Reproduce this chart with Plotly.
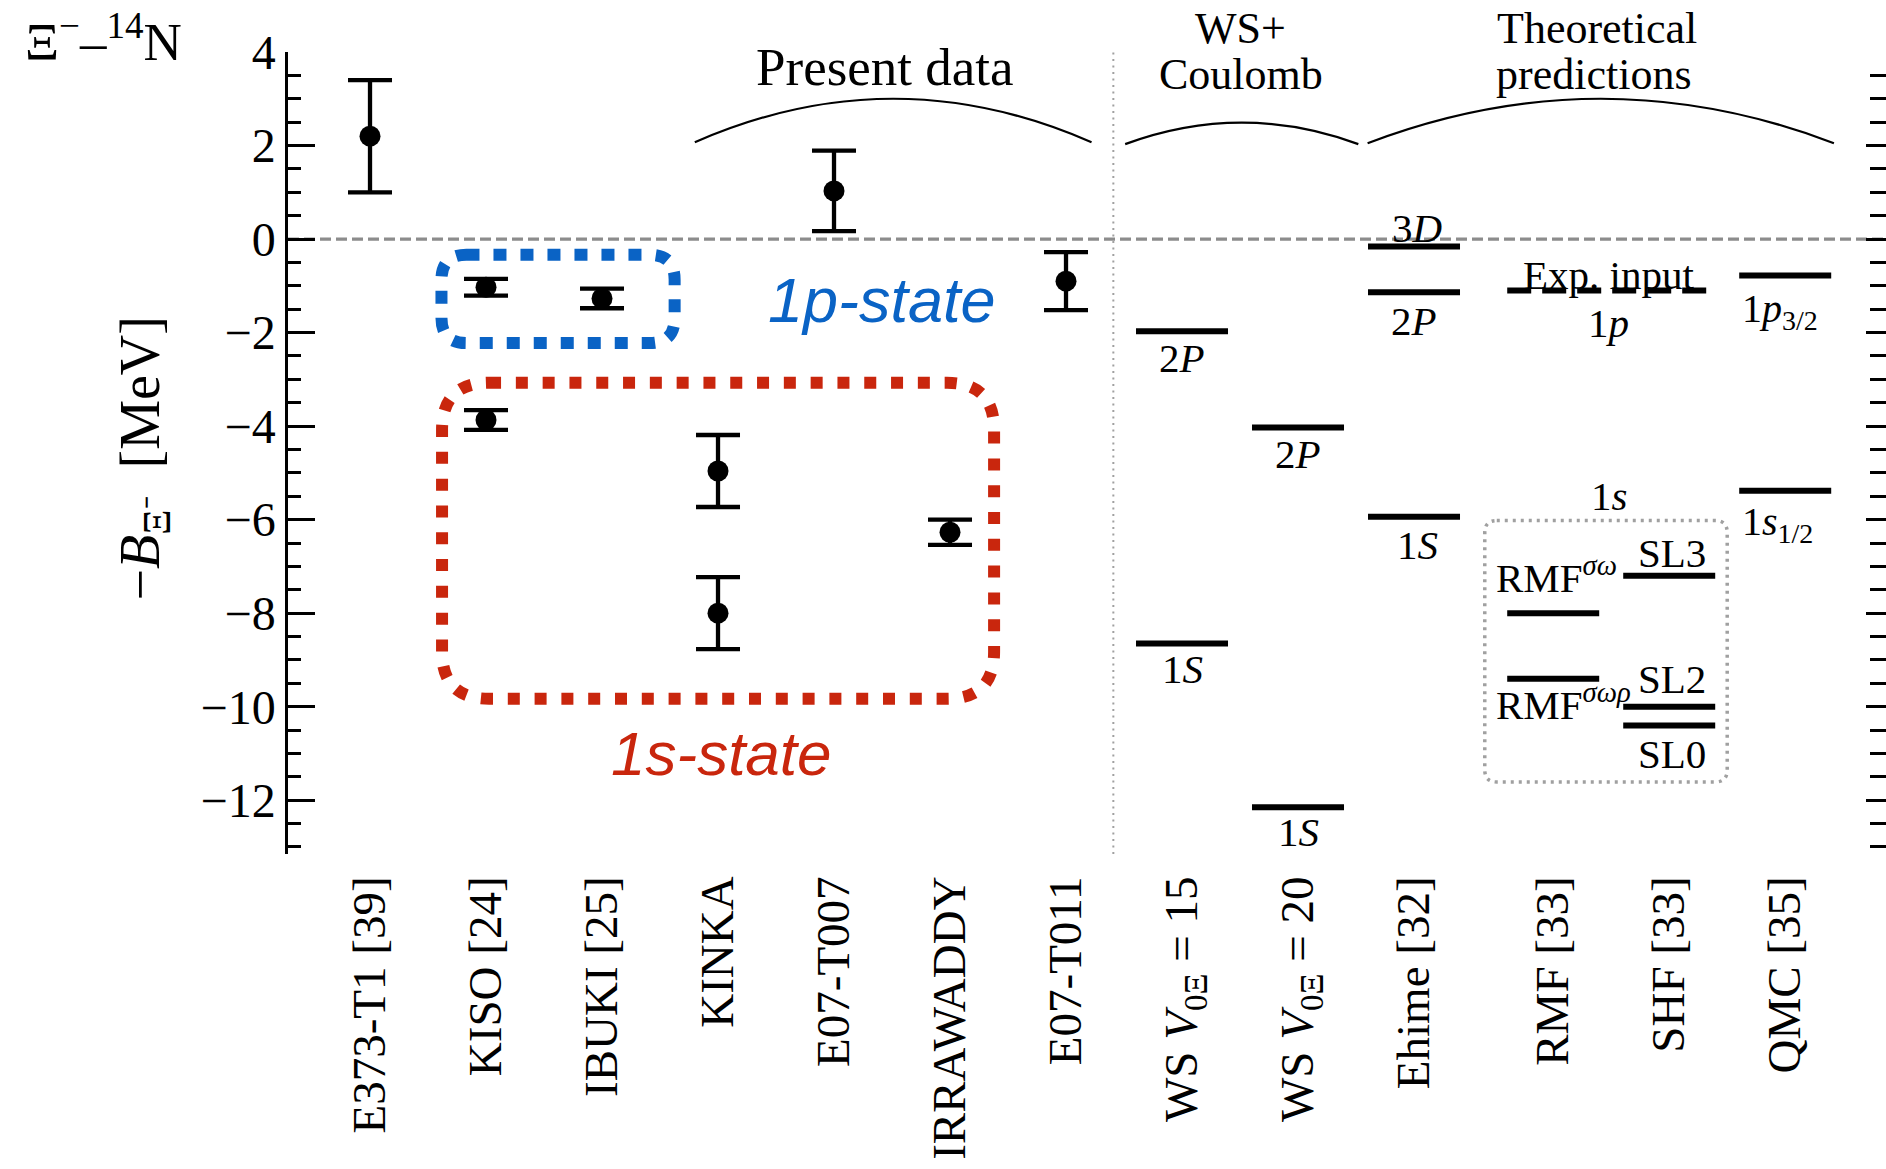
import plotly.graph_objects as go

# ---- categories along the horizontal axis ----
categories = ["E373-T1 [39]", "KISO [24]", "IBUKI [25]", "KINKA", "E07-T007",
              "IRRAWADDY", "E07-T011",
              "WS <i>V</i><sub>0Ξ</sub> = 15", "WS <i>V</i><sub>0Ξ</sub> = 20",
              "Ehime [32]", "RMF [33]", "SHF [33]", "QMC [35]"]
category_x = [0, 1, 2, 3, 4, 5, 6, 7, 8, 9, 10.2, 11.2, 12.2]

# ---- measured events: category index, -B (MeV), uncertainty ----
event_cat = [0, 1, 1, 2, 3, 3, 4, 5, 6]
event_val = [2.2, -1.03, -3.87, -1.27, -4.96, -8.00, 1.03, -6.27, -0.90]
event_err = [1.2, 0.18, 0.21, 0.21, 0.77, 0.77, 0.86, 0.27, 0.62]

# ---- predicted levels: category index, -B (MeV), state name ----
level_cat = [7, 7, 8, 8, 9, 9, 9, 10, 10, 11, 11, 11, 12, 12]
level_val = [-1.97, -8.65, -4.03, -12.15, -0.16, -1.14, -5.94,
             -8.00, -9.40, -7.20, -10.00, -10.40, -0.78, -5.38]
level_name = ["2<i>P</i>", "1<i>S</i>", "2<i>P</i>", "1<i>S</i>",
              "3<i>D</i>", "2<i>P</i>", "1<i>S</i>",
              "RMF<sup><i>σω</i></sup>", "RMF<sup><i>σωρ</i></sup>",
              "SL3", "SL2", "SL0",
              "1<i>p</i><sub>3/2</sub>", "1<i>s</i><sub>1/2</sub>"]

# experimental 1p input used by the RMF / SHF calculations
exp_input_val = -1.10

y_tick_vals = [-12, -10, -8, -6, -4, -2, 0, 2, 4]
y_tick_text = ["−12", "−10", "−8", "−6", "−4", "−2", "0", "2", "4"]

# ---- geometry ----
W, H = 1886, 1169
ML, MR, MT, MB = 288, 0, 52, 315
PX_PER_X = 116.0
x_range = [-0.707, -0.707 + (W - ML - MR) / PX_PER_X]
y_range = [-13.15, 4.0]
ppx = (W - ML - MR) / (x_range[1] - x_range[0])
ppy = (H - MT - MB) / (y_range[1] - y_range[0])
HALF = 46.0 / ppx          # half length of a level bar

SERIF = "Liberation Serif, Times New Roman, serif"
SANS = "Liberation Sans, Arial, sans-serif"
BLUE = "#0a63c5"
RED = "#c9260d"


def px_x(xv):
    """data x -> paper x"""
    return (xv - x_range[0]) / (x_range[1] - x_range[0])


def px_y(yv):
    """data y -> paper y"""
    return (yv - y_range[0]) / (y_range[1] - y_range[0])


fig = go.Figure()

# measured points with error bars
fig.add_trace(go.Scatter(
    x=[category_x[c] for c in event_cat], y=event_val,
    mode="markers",
    marker=dict(size=21, color="black", line=dict(width=0)),
    error_y=dict(type="data", array=event_err, thickness=4.3, width=22, color="black"),
    hoverinfo="skip", showlegend=False))

# predicted level bars
lx, ly = [], []
for c, v in zip(level_cat, level_val):
    lx += [category_x[c] - HALF, category_x[c] + HALF, None]
    ly += [v, v, None]
fig.add_trace(go.Scatter(x=lx, y=ly, mode="lines",
                         line=dict(color="black", width=6),
                         hoverinfo="skip", showlegend=False))

# experimental input shared by RMF and SHF
fig.add_trace(go.Scatter(
    x=[category_x[10] - HALF, category_x[11] + HALF], y=[exp_input_val, exp_input_val],
    mode="lines", line=dict(color="black", width=6, dash="24px,11px"),
    hoverinfo="skip", showlegend=False))

# carrier for the right-hand tick axis
fig.add_trace(go.Scatter(x=[category_x[0]], y=[event_val[0]], yaxis="y2",
                         mode="markers", marker=dict(opacity=0),
                         hoverinfo="skip", showlegend=False))

# ---- level labels: (dx, dy, xanchor, yanchor, size) ----
label_place = [
    (0.0, -0.57, "center", "middle", 41),
    (0.0, -0.54, "center", "middle", 41),
    (0.0, -0.57, "center", "middle", 41),
    (0.0, -0.53, "center", "middle", 41),
    (0.03, 0.40, "center", "middle", 41),
    (0.0, -0.62, "center", "middle", 41),
    (0.03, -0.60, "center", "middle", 41),
    (-0.51, 0.21, "left", "bottom", 41),
    (-0.51, -1.10, "left", "bottom", 41),
    (0.02, 0.48, "center", "middle", 41),
    (0.02, 0.59, "center", "middle", 41),
    (0.02, -0.61, "center", "middle", 41),
    (-0.39, -0.18, "left", "top", 40),
    (-0.39, -0.14, "left", "top", 40),
]
annotations = []
for c, v, name, (dx, dy, xa, ya, fs) in zip(level_cat, level_val, level_name, label_place):
    annotations.append(dict(x=category_x[c] + dx, y=v + dy, xref="x", yref="y",
                            text=name, showarrow=False, xanchor=xa, yanchor=ya,
                            font=dict(family=SERIF, size=fs, color="black")))

mid_rs = (category_x[10] + category_x[11]) / 2
for txt, yy in [("Exp. input", exp_input_val + 0.33),
                ("1<i>p</i>", exp_input_val - 0.69),
                ("1<i>s</i>", -5.49)]:
    annotations.append(dict(x=mid_rs - 0.02, y=yy, xref="x", yref="y", text=txt,
                            showarrow=False, xanchor="center", yanchor="middle",
                            font=dict(family=SERIF, size=41, color="black")))

# group headings (placed in paper space so they may sit above the top tick)
for txt, xx, yy, fs in [("Present data", 4.44, 3.675, 53),
                        ("WS+", 7.50, 4.50, 44), ("Coulomb", 7.51, 3.51, 44),
                        ("Theoretical", 10.58, 4.50, 44), ("predictions", 10.55, 3.51, 44)]:
    annotations.append(dict(x=px_x(xx), y=px_y(yy), xref="paper", yref="paper",
                            text=txt, showarrow=False,
                            xanchor="center", yanchor="middle",
                            font=dict(family=SERIF, size=fs, color="black")))

# state tags
annotations.append(dict(x=4.41, y=-1.30, xref="x", yref="y", text="<i>1p-state</i>",
                        showarrow=False, xanchor="center", yanchor="middle",
                        font=dict(family=SANS, size=63, color=BLUE)))
annotations.append(dict(x=3.03, y=-11.01, xref="x", yref="y", text="<i>1s-state</i>",
                        showarrow=False, xanchor="center", yanchor="middle",
                        font=dict(family=SANS, size=62, color=RED)))

# system name and axis title
plot_w, plot_h = W - ML - MR, H - MT - MB
annotations.append(dict(x=(23 - ML) / plot_w, y=(H - MB - 73.4) / plot_h,
                        xref="paper", yref="paper",
                        text="Ξ<sup>−</sup>–<sup>14</sup>N", showarrow=False,
                        xanchor="left", yanchor="bottom",
                        font=dict(family=SERIF, size=53, color="black")))
annotations.append(dict(x=(143.5 - ML) / plot_w, y=(H - MB - 459) / plot_h,
                        xref="paper", yref="paper", textangle=-90,
                        text="−<i>B</i><sub>Ξ⁻</sub>\u00a0\u00a0[MeV]", showarrow=False,
                        xanchor="center", yanchor="middle",
                        font=dict(family=SERIF, size=56, color="black")))


def rounded_box(x0, x1, y0, y1, r_px):
    rx, ry = r_px / ppx, r_px / ppy
    return (f"M {x0 + rx},{y1} L {x1 - rx},{y1} Q {x1},{y1} {x1},{y1 - ry} "
            f"L {x1},{y0 + ry} Q {x1},{y0} {x1 - rx},{y0} "
            f"L {x0 + rx},{y0} Q {x0},{y0} {x0},{y0 + ry} "
            f"L {x0},{y1 - ry} Q {x0},{y1} {x0 + rx},{y1} Z")


def arc(x0, x1, y_end, y_peak):
    xc = (x0 + x1) / 2
    yc = y_end + 2 * (y_peak - y_end)
    return f"M {x0},{y_end} Q {xc},{yc} {x1},{y_end}"


shapes = [
    # zero binding reference
    dict(type="line", xref="paper", x0=0, x1=1, yref="y", y0=0, y1=0,
         line=dict(color="#8c8c8c", width=3.3, dash="11px,5px"), layer="below"),
    # separator between data and calculations
    dict(type="line", xref="x", x0=6.408, x1=6.408, yref="paper", y0=0, y1=1,
         line=dict(color="#a0a0a0", width=2, dash="2px,4.5px"), layer="below"),
    # heading brackets
    dict(type="path", path=arc(2.80, 6.22, 2.07, 3.0), line=dict(color="black", width=2.2)),
    dict(type="path", path=arc(6.51, 8.52, 2.03, 2.49), line=dict(color="black", width=2.2)),
    dict(type="path", path=arc(8.60, 12.62, 2.05, 3.0), line=dict(color="black", width=2.2)),
    # 1p / 1s groupings
    dict(type="path", path=rounded_box(0.616, 2.626, -2.225, -0.336, 25),
         line=dict(color=BLUE, width=12, dash="13px,14px")),
    dict(type="path", path=rounded_box(0.621, 5.38, -9.83, -3.074, 47),
         line=dict(color=RED, width=12, dash="12px,14.8px")),
    # RMF / SHF 1s predictions
    dict(type="path", path=rounded_box(9.61, 11.70, -11.61, -6.02, 12),
         line=dict(color="#a0a0a0", width=3.5, dash="3px,5px")),
]

fig.update_layout(
    width=W, height=H,
    margin=dict(l=ML, r=MR, t=MT, b=MB, pad=0),
    paper_bgcolor="white", plot_bgcolor="white",
    showlegend=False,
    font=dict(family=SERIF, color="black"),
    xaxis=dict(range=x_range, tickvals=category_x, ticktext=categories,
               tickangle=-90, ticks="", showline=False, showgrid=False, zeroline=False,
               tickfont=dict(family=SERIF, size=47, color="black"),
               ticklabelstandoff=12),
    yaxis=dict(range=y_range, tickvals=y_tick_vals, ticktext=y_tick_text,
               showline=True, linecolor="black", linewidth=2.5,
               ticks="inside", ticklen=27, tickwidth=2.5, tickcolor="black",
               showgrid=False, zeroline=False,
               tickfont=dict(family=SERIF, size=48, color="black"),
               minor=dict(ticks="inside", ticklen=13, tickwidth=2.5, tickcolor="black",
                          dtick=0.5, tick0=0, showgrid=False)),
    yaxis2=dict(range=y_range, overlaying="y", side="right", anchor="x",
                showline=False, showticklabels=False, showgrid=False, zeroline=False,
                tickvals=y_tick_vals,
                ticks="inside", ticklen=20, tickwidth=2.5, tickcolor="black",
                minor=dict(ticks="inside", ticklen=16, tickwidth=2.5, tickcolor="black",
                           dtick=0.5, tick0=0, showgrid=False)),
    annotations=annotations,
    shapes=shapes,
)

fig.write_html("out.html")
